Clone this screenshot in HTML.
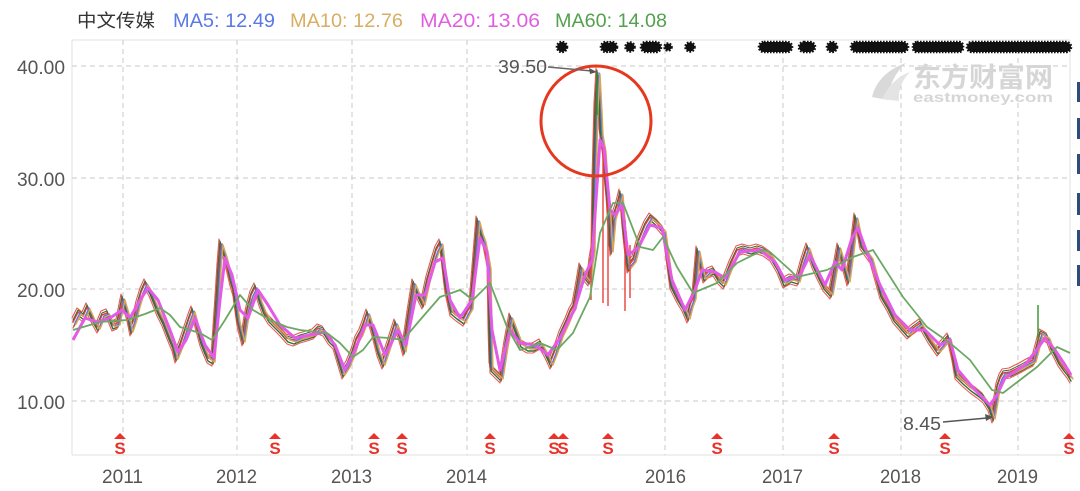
<!DOCTYPE html>
<html>
<head>
<meta charset="utf-8">
<style>
html,body{margin:0;padding:0;background:#fff;}
svg{display:block;}
text{font-family:"Liberation Sans","Noto Sans CJK SC",sans-serif;}
</style>
</head>
<body>
<svg width="1080" height="491" viewBox="0 0 1080 491" xmlns="http://www.w3.org/2000/svg" xmlns:xlink="http://www.w3.org/1999/xlink">
<defs>
<polyline id="p" points="73,322 78,312 83,316 87,307 92,318 97,327 102,315 107,313 112,325 117,323 122,298 127,315 130,330 134,318 137,305 141,292 145,283 149,290 153,300 157,310 162,320 167,333 172,345 175,357 180,345 185,330 189,318 192,310 196,325 200,340 204,350 207,357 212,360 214,330 216,300 218,268 220,243 224,255 227,267 230,280 233,290 237,320 242,340 245,320 247,310 251,295 255,287 259,300 263,310 268,318 273,323 280,330 287,338 293,340 300,337 307,335 313,333 318,328 323,330 328,338 333,343 338,360 342,373 347,365 352,353 356,340 360,333 363,325 367,313 372,330 377,350 382,363 388,345 395,323 399,335 403,350 408,315 413,283 418,295 422,303 427,280 432,263 436,250 440,243 443,270 445,287 450,310 456,315 463,320 467,312 470,307 473,270 477,220 480,232 483,240 486,255 488,267 489,330 490,367 495,372 500,377 505,345 510,317 515,330 520,343 527,347 533,347 540,343 545,352 550,363 555,350 560,335 566,322 570,312 573,307 577,285 580,267 584,275 588,280 590,262 592,250 593,183 595,107 597,72 599,110 600,133 603,150 605,180 607,200 610,250 613,217 617,205 620,193 623,230 627,267 633,260 637,245 640,237 645,225 650,217 657,223 663,230 667,260 670,283 677,297 682,305 687,317 690,305 693,297 697,250 700,265 703,277 708,272 713,270 718,278 723,283 730,265 737,250 743,248 750,250 757,248 763,250 770,255 777,267 783,282 790,278 797,280 802,262 807,247 812,262 817,273 823,285 830,293 834,270 838,247 843,265 847,280 851,250 855,217 858,232 860,243 865,250 870,257 875,275 880,293 887,305 893,317 900,325 907,333 913,328 920,323 928,337 937,350 943,343 948,337 952,355 955,373 962,380 970,387 977,392 983,397 988,405 992,417 995,400 997,387 1000,378 1003,373 1010,372 1020,367 1027,363 1033,360 1037,345 1040,333 1044,335 1047,337 1050,345 1053,350 1058,360 1063,367 1067,372 1070,377"/>
</defs>
<rect x="0" y="0" width="1080" height="491" fill="#fff"/>

<!-- legend -->
<text x="77" y="27" font-size="18" fill="#333" textLength="78" lengthAdjust="spacingAndGlyphs">中文传媒</text>
<text x="173" y="27" font-size="19" fill="#5a78e6" textLength="102" lengthAdjust="spacingAndGlyphs">MA5: 12.49</text>
<text x="290" y="27" font-size="19" fill="#d8ae62" textLength="113" lengthAdjust="spacingAndGlyphs">MA10: 12.76</text>
<text x="420" y="27" font-size="19" fill="#e05ee0" textLength="120" lengthAdjust="spacingAndGlyphs">MA20: 13.06</text>
<text x="555" y="27" font-size="19" fill="#55a04e" textLength="112" lengthAdjust="spacingAndGlyphs">MA60: 14.08</text>

<!-- frame -->
<g stroke="#e2e2e2" stroke-width="1" fill="none">
<line x1="72" y1="40" x2="1070" y2="40"/>
<line x1="72" y1="40" x2="72" y2="455"/>
<line x1="72" y1="455" x2="1070" y2="455"/>
<line x1="1070" y1="40" x2="1070" y2="455"/>
</g>

<!-- grid -->
<g stroke="#c9c9c9" stroke-width="1" stroke-dasharray="5,4" fill="none">
<line x1="72" y1="66" x2="1070" y2="66"/>
<line x1="72" y1="178" x2="1070" y2="178"/>
<line x1="72" y1="289" x2="1070" y2="289"/>
<line x1="72" y1="401" x2="1070" y2="401"/>
<line x1="123" y1="40" x2="123" y2="455"/>
<line x1="237" y1="40" x2="237" y2="455"/>
<line x1="352" y1="40" x2="352" y2="455"/>
<line x1="467" y1="40" x2="467" y2="455"/>
<line x1="665" y1="40" x2="665" y2="455"/>
<line x1="783" y1="40" x2="783" y2="455"/>
<line x1="901" y1="40" x2="901" y2="455"/>
<line x1="1018" y1="40" x2="1018" y2="455"/>
</g>

<!-- y labels -->
<g font-size="19" fill="#555" text-anchor="end">
<text x="65" y="74" textLength="48" lengthAdjust="spacingAndGlyphs">40.00</text>
<text x="65" y="186" textLength="48" lengthAdjust="spacingAndGlyphs">30.00</text>
<text x="65" y="297" textLength="48" lengthAdjust="spacingAndGlyphs">20.00</text>
<text x="65" y="409" textLength="48" lengthAdjust="spacingAndGlyphs">10.00</text>
</g>

<!-- x labels -->
<g font-size="19" fill="#555">
<text x="102" y="483" textLength="41" lengthAdjust="spacingAndGlyphs">2011</text>
<text x="216" y="483" textLength="41" lengthAdjust="spacingAndGlyphs">2012</text>
<text x="331" y="483" textLength="41" lengthAdjust="spacingAndGlyphs">2013</text>
<text x="446" y="483" textLength="41" lengthAdjust="spacingAndGlyphs">2014</text>
<text x="645" y="483" textLength="41" lengthAdjust="spacingAndGlyphs">2016</text>
<text x="762" y="483" textLength="41" lengthAdjust="spacingAndGlyphs">2017</text>
<text x="880" y="483" textLength="41" lengthAdjust="spacingAndGlyphs">2018</text>
<text x="997" y="483" textLength="41" lengthAdjust="spacingAndGlyphs">2019</text>
</g>

<!-- watermark -->
<g fill="#d9d9d9">
<path d="M872,97 C876,80 890,68 906,63 C896,72 889,84 888,100 Z"/>
<path d="M882,99 C888,86 898,76 910,72 C902,80 898,90 899,101 Z" fill="#e4e4e4"/>
<text x="913" y="87" font-size="27" font-weight="bold" fill="#d6d6d6" font-family="'Noto Serif CJK SC','Noto Sans CJK SC',serif" textLength="140" lengthAdjust="spacingAndGlyphs">东方财富网</text>
<text x="913" y="102" font-size="14" font-weight="bold" fill="#d6d6d6" textLength="140" lengthAdjust="spacingAndGlyphs">eastmoney.com</text>
</g>

<!-- top markers -->
<g fill="#111" stroke="#111" stroke-width="2.6" stroke-dasharray="1.6,1.4">
<circle cx="562" cy="47" r="5"/>
<circle cx="606" cy="47" r="5"/>
<circle cx="612" cy="47" r="5"/>
<circle cx="630" cy="47" r="4.5"/>
<rect x="641" y="42" width="20" height="10" rx="5"/>
<circle cx="668" cy="47" r="3.5"/>
<circle cx="690" cy="47" r="4.5"/>
<rect x="759" y="42" width="33" height="10" rx="5"/>
<rect x="799" y="42" width="16" height="10" rx="5"/>
<circle cx="832" cy="47" r="5"/>
<rect x="851" y="42" width="57" height="10" rx="5"/>
<rect x="913" y="42" width="50" height="10" rx="4"/>
<rect x="967" y="42" width="104" height="10" rx="5"/>
</g>

<!-- right side partial bars -->
<g fill="#2c4c7c">
<rect x="1077" y="82" width="4" height="20"/>
<rect x="1077" y="118" width="4" height="21"/>
<rect x="1077" y="154" width="4" height="20"/>
<rect x="1077" y="193" width="4" height="22"/>
<rect x="1077" y="230" width="4" height="21"/>
<rect x="1077" y="265" width="4" height="21"/>
</g>

<!-- price (candles approximated) -->
<g fill="none" stroke-linejoin="round" stroke-linecap="round">
<use href="#p" xlink:href="#p" stroke="#e8423a" stroke-width="1.6"/>
<use href="#p" xlink:href="#p" transform="translate(1,4)" stroke="#2f6e38" stroke-width="1.4"/>
<use href="#p" xlink:href="#p" transform="translate(0,6)" stroke="#e8423a" stroke-width="1.1" opacity="0.85"/>
<use href="#p" xlink:href="#p" transform="translate(-1,-4)" stroke="#e23b33" stroke-width="1.1" opacity="0.85"/>
<use href="#p" xlink:href="#p" transform="translate(0,-2)" stroke="#3a6a3a" stroke-width="1"/>
<use href="#p" xlink:href="#p" transform="translate(2,1)" stroke="#5a78e6" stroke-width="1.4"/>
<use href="#p" xlink:href="#p" transform="translate(3,2)" stroke="#dca650" stroke-width="1.4"/>
</g>

<!-- wicks near the peak -->
<g stroke="#e8423a" stroke-width="1.4">
<line x1="591" y1="250" x2="591" y2="300"/>
<line x1="603" y1="150" x2="603" y2="303"/>
<line x1="608" y1="200" x2="608" y2="306"/>
<line x1="625" y1="220" x2="625" y2="311"/>
<line x1="630" y1="245" x2="630" y2="298"/>
</g>
<line x1="597" y1="72" x2="597" y2="115" stroke="#2f8a3a" stroke-width="1.5"/>
<line x1="1038" y1="305" x2="1038" y2="340" stroke="#3f9a3a" stroke-width="1.5"/>

<!-- MA20 magenta -->
<polyline fill="none" stroke="#e25ae6" stroke-width="3" stroke-linejoin="round" points="73,340 85,318 97,322 110,318 122,310 130,318 140,300 148,288 158,300 170,330 178,352 186,340 195,318 205,345 214,358 220,300 225,258 232,275 240,310 248,318 258,290 268,305 280,325 295,338 310,335 325,332 335,345 345,370 355,350 365,325 373,325 385,355 398,330 406,345 416,295 425,295 435,262 443,258 450,300 460,318 472,300 480,238 487,252 492,330 500,370 510,330 520,343 535,345 548,355 560,338 575,308 585,275 592,260 596,200 600,140 604,148 610,210 615,215 622,205 628,255 638,248 650,225 662,228 672,280 685,310 695,290 702,270 715,272 725,278 740,252 760,250 775,262 785,280 800,275 810,255 825,285 835,262 842,270 852,238 858,228 866,250 880,285 895,315 910,330 925,330 940,345 950,340 958,370 975,390 990,405 997,395 1005,378 1025,365 1038,348 1045,338 1055,350 1065,365 1071,375"/>

<!-- MA60 green -->
<polyline fill="none" stroke="#6ca864" stroke-width="1.8" stroke-linejoin="round" points="73,330 100,322 127,320 145,314 160,308 170,315 180,327 200,333 212,340 225,320 240,295 253,310 270,320 287,327 300,330 327,333 340,343 353,357 363,350 373,337 390,338 403,340 420,320 440,297 460,290 473,300 490,283 507,327 520,350 530,347 540,343 557,350 573,333 580,318 590,297 600,233 613,203 623,203 640,247 653,250 663,237 677,267 693,293 717,283 737,263 763,250 770,252 790,270 797,277 827,270 853,257 873,250 903,297 927,327 950,343 970,360 992,390 1003,393 1037,367 1057,347 1070,353"/>

<!-- annotations -->
<circle cx="596" cy="121" r="55" fill="none" stroke="#e5391f" stroke-width="3"/>
<text x="498" y="73" font-size="18" fill="#555" textLength="49" lengthAdjust="spacingAndGlyphs">39.50</text>
<line x1="548" y1="67" x2="592" y2="71" stroke="#666" stroke-width="1.5"/>
<polygon points="597,72 589,68 590,74" fill="#555"/>
<text x="903" y="430" font-size="18" fill="#555" textLength="38" lengthAdjust="spacingAndGlyphs">8.45</text>
<line x1="943" y1="422" x2="987" y2="418" stroke="#555" stroke-width="1.5"/>
<polygon points="993,417 985,414 986,421" fill="#555"/>

<!-- S markers -->
<g fill="#e8322a" font-size="17" font-weight="bold" text-anchor="middle">
<polygon points="114,439 120,433 126,439"/><text x="120" y="454">S</text>
<polygon points="269,439 275,433 281,439"/><text x="275" y="454">S</text>
<polygon points="368,439 374,433 380,439"/><text x="374" y="454">S</text>
<polygon points="396,439 402,433 408,439"/><text x="402" y="454">S</text>
<polygon points="484,439 490,433 496,439"/><text x="490" y="454">S</text>
<polygon points="548,439 554,433 560,439"/><text x="554" y="454">S</text>
<polygon points="557,439 563,433 569,439"/><text x="563" y="454">S</text>
<polygon points="602,439 608,433 614,439"/><text x="608" y="454">S</text>
<polygon points="711,439 717,433 723,439"/><text x="717" y="454">S</text>
<polygon points="828,439 834,433 840,439"/><text x="834" y="454">S</text>
<polygon points="939,439 945,433 951,439"/><text x="945" y="454">S</text>
<polygon points="1063,439 1069,433 1075,439"/><text x="1069" y="454">S</text>
</g>
</svg>
</body>
</html>
